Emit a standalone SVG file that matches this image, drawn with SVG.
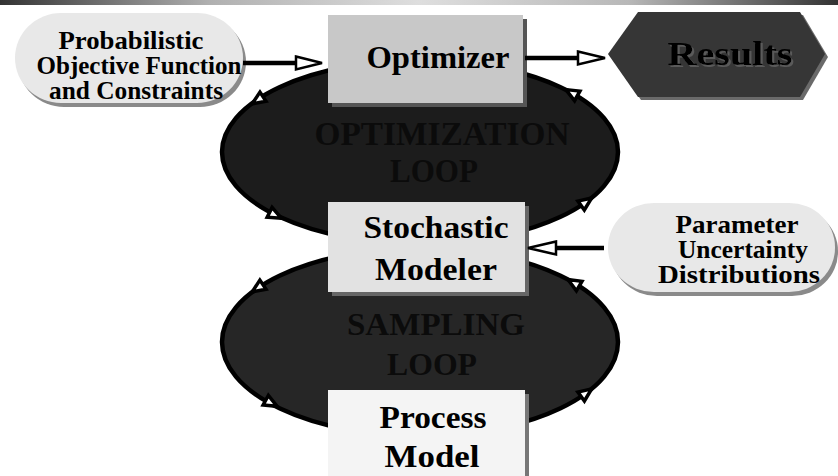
<svg xmlns="http://www.w3.org/2000/svg" width="838" height="476" viewBox="0 0 838 476">
  <defs>
    <linearGradient id="topBar" x1="0" y1="0" x2="1" y2="0">
      <stop offset="0" stop-color="#333333"/>
      <stop offset="0.25" stop-color="#b0b0b0"/>
      <stop offset="0.5" stop-color="#dedede"/>
      <stop offset="0.75" stop-color="#b8b8b8"/>
      <stop offset="1" stop-color="#333333"/>
    </linearGradient>
    <filter id="textShadow" x="-10%" y="-20%" width="130%" height="150%">
      <feDropShadow dx="2" dy="2" stdDeviation="0.3" flood-color="#5a5a5a" flood-opacity="1"/>
    </filter>
    <polygon id="loopHead" points="7,0 -6,-5.5 -6,5.5"/>
  </defs>
  <style>
    .lbl { font-family: "Liberation Serif", "Times New Roman", serif; font-weight: bold; fill: #000000; text-anchor: middle; }
    .loopLbl { font-family: "Liberation Serif", "Times New Roman", serif; font-weight: bold; fill: #0b0b0b; text-anchor: middle; }
    .loop { stroke: #000000; stroke-width: 4.5; }
    .loopHead { fill: #ffffff; stroke: #000000; stroke-width: 3.5; stroke-linejoin: miter; }
    .wire { stroke: #000000; stroke-width: 4.5; fill: none; }
    .head { fill: #ffffff; stroke: #000000; stroke-width: 2.5; stroke-linejoin: miter; }
  </style>

  <rect width="838" height="476" fill="#ffffff"/>
  <rect x="0" y="0" width="838" height="5" fill="url(#topBar)"/>

  <!-- optimization loop -->
  <g id="optimization-loop">
    <ellipse class="loop" cx="420" cy="152" rx="198" ry="92" fill="#1c1c1c"/>
    <use href="#loopHead" class="loopHead" transform="translate(258,100) rotate(146.5)"/>
    <use href="#loopHead" class="loopHead" transform="translate(572,93) rotate(-151)"/>
    <use href="#loopHead" class="loopHead" transform="translate(275,215) rotate(26.5)"/>
    <use href="#loopHead" class="loopHead" transform="translate(586,202) rotate(-35.6)"/>
    <text class="loopLbl" x="442" y="145" font-size="34" textLength="255" lengthAdjust="spacingAndGlyphs">OPTIMIZATION</text>
    <text class="loopLbl" x="434" y="182" font-size="34" textLength="88" lengthAdjust="spacingAndGlyphs">LOOP</text>
  </g>

  <!-- sampling loop -->
  <g id="sampling-loop">
    <ellipse class="loop" cx="420" cy="342" rx="198" ry="94" fill="#262626"/>
    <use href="#loopHead" class="loopHead" transform="translate(258,288) rotate(145.9)"/>
    <use href="#loopHead" class="loopHead" transform="translate(271,403) rotate(28.7)"/>
    <use href="#loopHead" class="loopHead" transform="translate(574,283) rotate(-149.6)"/>
    <use href="#loopHead" class="loopHead" transform="translate(586,393) rotate(-36.2)"/>
    <text class="loopLbl" x="436" y="335" font-size="32" textLength="178" lengthAdjust="spacingAndGlyphs">SAMPLING</text>
    <text class="loopLbl" x="432" y="375" font-size="32" textLength="90" lengthAdjust="spacingAndGlyphs">LOOP</text>
  </g>

  <!-- Probabilistic objective input -->
  <g id="probabilistic-objective">
    <rect x="18" y="17" width="228" height="90" rx="46" ry="45" fill="#8a8a8a"/>
    <rect x="15" y="13" width="228" height="90" rx="46" ry="45" fill="#e8e8e8"/>
    <text class="lbl" x="131" y="49" font-size="25" textLength="145" lengthAdjust="spacingAndGlyphs">Probabilistic</text>
    <text class="lbl" x="139" y="74" font-size="25" textLength="205" lengthAdjust="spacingAndGlyphs">Objective Function</text>
    <text class="lbl" x="136" y="99" font-size="25" textLength="174" lengthAdjust="spacingAndGlyphs">and Constraints</text>
  </g>

  <!-- Optimizer -->
  <g id="optimizer">
    <rect x="332" y="19" width="195" height="88" fill="#555555"/>
    <rect x="328" y="15" width="195" height="88" fill="#c8c8c8"/>
    <text class="lbl" x="438" y="68" font-size="31" textLength="143" lengthAdjust="spacingAndGlyphs">Optimizer</text>
  </g>

  <!-- Results -->
  <g id="results">
    <polygon points="611,57 641,15 803,15 828,57 803,100 641,100" fill="#6a6a6a"/>
    <polygon points="608,54 638,12 800,12 825,54 800,97 638,97" fill="#363636"/>
    <text class="lbl" x="730" y="65" font-size="33" textLength="125" lengthAdjust="spacingAndGlyphs" filter="url(#textShadow)">Results</text>
  </g>

  <!-- Stochastic Modeler -->
  <g id="stochastic-modeler">
    <rect x="332" y="206" width="197" height="90" fill="#666666"/>
    <rect x="328" y="202" width="197" height="90" fill="#e2e2e2"/>
    <text class="lbl" x="436" y="238" font-size="31" textLength="145" lengthAdjust="spacingAndGlyphs">Stochastic</text>
    <text class="lbl" x="436" y="280" font-size="31" textLength="122" lengthAdjust="spacingAndGlyphs">Modeler</text>
  </g>

  <!-- Parameter uncertainty input -->
  <g id="parameter-uncertainty">
    <rect x="611" y="207" width="227" height="89" rx="46" ry="44" fill="#8a8a8a"/>
    <rect x="608" y="203" width="227" height="89" rx="46" ry="44" fill="#e8e8e8"/>
    <text class="lbl" x="737" y="233" font-size="25" textLength="123" lengthAdjust="spacingAndGlyphs">Parameter</text>
    <text class="lbl" x="743" y="258" font-size="25" textLength="130" lengthAdjust="spacingAndGlyphs">Uncertainty</text>
    <text class="lbl" x="739" y="283" font-size="25" textLength="162" lengthAdjust="spacingAndGlyphs">Distributions</text>
  </g>

  <!-- Process Model -->
  <g id="process-model">
    <rect x="332" y="394" width="197" height="90" fill="#777777"/>
    <rect x="328" y="390" width="197" height="90" fill="#f4f4f4"/>
    <text class="lbl" x="433" y="428" font-size="31" textLength="107" lengthAdjust="spacingAndGlyphs">Process</text>
    <text class="lbl" x="432" y="467" font-size="31" textLength="95" lengthAdjust="spacingAndGlyphs">Model</text>
  </g>

  <!-- connectors -->
  <g id="connectors">
    <line class="wire" x1="243" y1="63" x2="297" y2="63"/>
    <polygon class="head" points="296,56.5 322,63 296,69.5"/>
    <line class="wire" x1="525" y1="58" x2="579" y2="58"/>
    <polygon class="head" points="578,51.5 605,58 578,64.5"/>
    <line class="wire" x1="604" y1="248" x2="555" y2="248"/>
    <polygon class="head" points="556,241.5 528,248 556,254.5"/>
  </g>
</svg>
